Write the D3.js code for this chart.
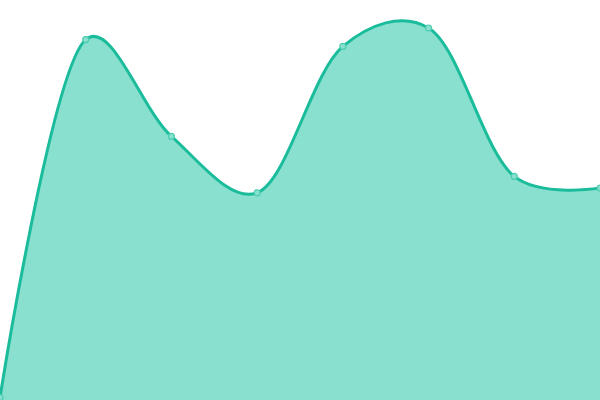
<!DOCTYPE html>
<html>
<head>
<meta charset="utf-8">
<script src="https://cdn.jsdelivr.net/npm/d3@7"></script>
<style>
  html, body { margin: 0; padding: 0; background: #fff; }
  svg { display: block; }
</style>
</head>
<body>
<div id="chart"></div>
<script>
const categories = ["A", "B", "C", "D", "E", "F", "G", "H"];
const values = [0.6, 90.1, 65.9, 51.8, 88.4, 93.0, 55.9, 53.0];

const width = 600;
const height = 400;

const svg = d3.select("#chart")
    .append("svg")
    .attr("width", width)
    .attr("height", height);

const data = categories.map((c, i) => ({ cat: c, value: values[i] }));

const x = d3.scalePoint()
    .domain(categories)
    .range([0, width]);

const y = d3.scaleLinear()
    .domain([0, 100])
    .range([height, 0]);

const curve = d3.curveCatmullRom.alpha(0.25);

const area = d3.area()
    .x(d => x(d.cat))
    .y0(y(0))
    .y1(d => y(d.value))
    .curve(curve);

const line = d3.line()
    .x(d => x(d.cat))
    .y(d => y(d.value))
    .curve(curve);

svg.append("path")
    .datum(data)
    .attr("d", area)
    .attr("fill", "#89e0cf");

svg.append("path")
    .datum(data)
    .attr("d", line)
    .attr("fill", "none")
    .attr("stroke", "#1bbc9b")
    .attr("stroke-width", 3);

svg.append("g")
    .selectAll("circle")
    .data(data)
    .join("circle")
    .attr("cx", d => x(d.cat))
    .attr("cy", d => y(d.value))
    .attr("r", 3)
    .attr("fill", "#89e0cf")
    .attr("stroke", "#4ccdb1")
    .attr("stroke-width", 1.2);
</script>
</body>
</html>
